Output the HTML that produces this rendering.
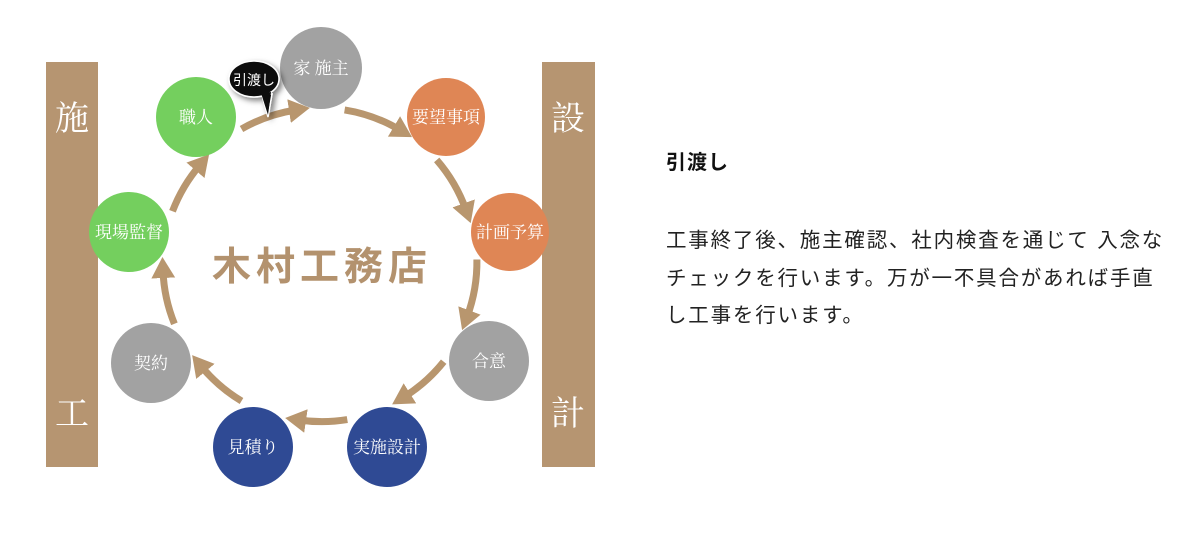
<!DOCTYPE html>
<html><head><meta charset="utf-8"><style>
html,body{margin:0;padding:0;background:#fff;}
body{width:1200px;height:545px;position:relative;overflow:hidden;font-family:"Liberation Sans","Noto Sans CJK JP",sans-serif;}
.t{position:absolute;left:666px;color:#222;}
</style></head><body>
<svg width="1200" height="545" style="position:absolute;left:0;top:0">
<defs>
<marker id="ah" markerWidth="4" markerHeight="4" refX="1" refY="2" orient="auto" markerUnits="strokeWidth">
<path d="M0,0.3 L3,2 L0,3.7 z" fill="#b8966e"/></marker>
<filter id="sh" x="-50%" y="-50%" width="200%" height="200%"><feDropShadow dx="3" dy="3" stdDeviation="3" flood-opacity="0.5"/></filter>
</defs>
<rect x="46" y="62" width="52" height="405" fill="#b69571"/>
<rect x="542" y="62" width="53" height="405" fill="#b69571"/>
<g font-family="Liberation Serif,'Noto Serif CJK SC',serif" font-size="34" fill="#fff" text-anchor="middle">
<text x="72" y="130">施</text><text x="72" y="425">工</text>
<text x="568" y="130">設</text><text x="568" y="425">計</text>
</g>
<g fill="none" stroke="#b8966e" stroke-width="7" marker-end="url(#ah)">
<path d="M241.5,129 A157 157 0 0 1 296,110"/>
<path d="M344.6,109.9 A157 157 0 0 1 400,130"/>
<path d="M436.7,159.9 A157 157 0 0 1 466,210"/>
<path d="M476.9,259.5 A157 157 0 0 1 467,317"/>
<path d="M443.7,361.7 A157 157 0 0 1 404,397"/>
<path d="M347.3,419.6 A157 157 0 0 1 299,420"/>
<path d="M241.5,401 A157 157 0 0 1 201,366"/>
<path d="M174.4,323.8 A157 157 0 0 1 163,271"/>
<path d="M172.5,211.3 A157 157 0 0 1 200,165"/>
</g>
<g font-family="Liberation Serif,'Noto Serif CJK SC',serif" font-size="17" fill="#fff" text-anchor="middle">
<circle cx="321" cy="68" r="41" fill="#a2a2a2"/><text x="321" y="74">家 施主</text>
<circle cx="446" cy="117" r="39" fill="#df8655"/><text x="446" y="123">要望事項</text>
<circle cx="510" cy="232" r="39" fill="#df8655"/><text x="510" y="238">計画予算</text>
<circle cx="489" cy="361" r="40" fill="#a2a2a2"/><text x="489" y="367">合意</text>
<circle cx="387" cy="447" r="40" fill="#2f4a94"/><text x="387" y="453">実施設計</text>
<circle cx="253" cy="447" r="40" fill="#2f4a94"/><text x="253" y="453">見積り</text>
<circle cx="151" cy="363" r="40" fill="#a2a2a2"/><text x="151" y="369">契約</text>
<circle cx="129" cy="232" r="40" fill="#74cf5e"/><text x="129" y="238">現場監督</text>
<circle cx="196" cy="117" r="40" fill="#74cf5e"/><text x="196" y="123">職人</text>
</g>
<text x="322" y="280" text-anchor="middle" font-size="39" font-weight="bold" fill="#b3926e" letter-spacing="5" font-family="'Noto Sans CJK JP',sans-serif">木村工務店</text>
<g filter="url(#sh)">
<path d="M262,95 L268,117 L272,94 z" fill="#111" stroke="#fff" stroke-width="1.5"/>
<ellipse cx="254" cy="79" rx="25" ry="18" fill="#111" stroke="#fff" stroke-width="1.5"/>
<path d="M261,93 L268,115 L271,92 z" fill="#111"/>
</g>
<text x="254" y="85" text-anchor="middle" font-size="14" fill="#fff" font-family="'Noto Sans CJK JP',sans-serif">引渡し</text>
</svg>
<div class="t" style="top:146px;font-size:20px;font-weight:bold;color:#111;letter-spacing:1px">引渡し</div>
<div class="t" style="top:222px;font-size:20.5px;line-height:37.5px;width:540px;letter-spacing:1.8px">工事終了後、施主確認、社内検査を通じて 入念な<br>チェックを行います。万が一不具合があれば手直<br>し工事を行います。</div>
</body></html>
